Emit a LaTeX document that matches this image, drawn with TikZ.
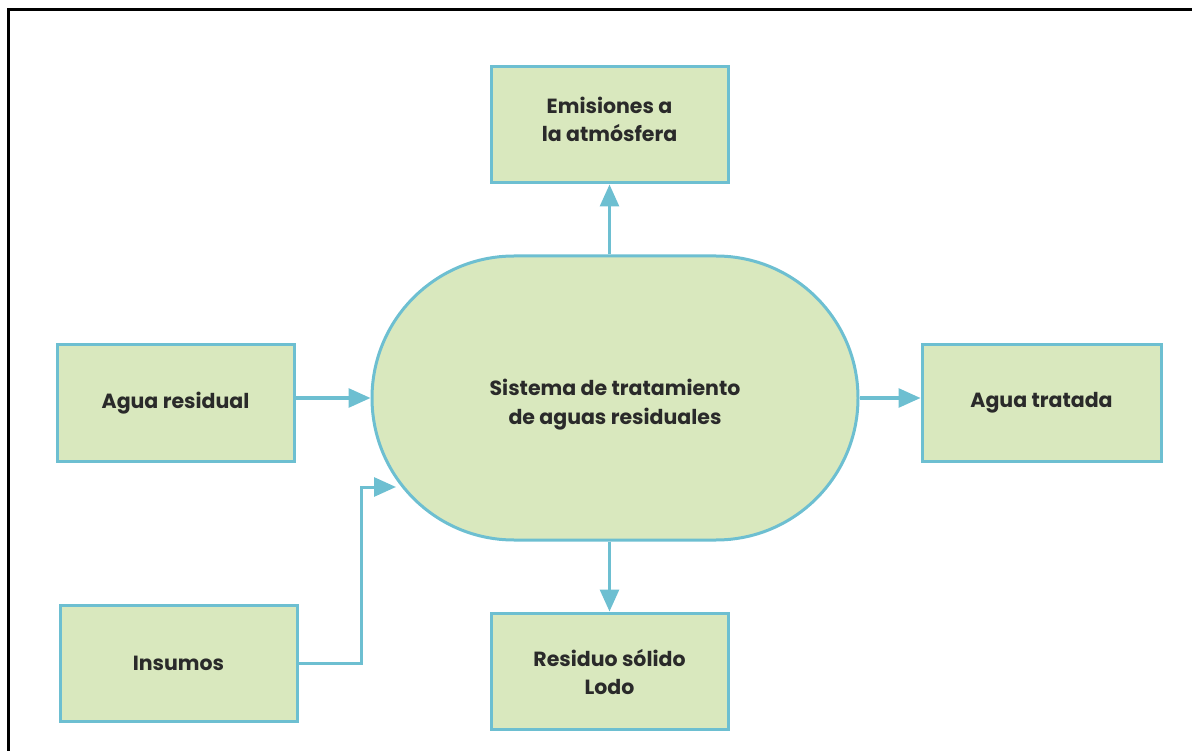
\documentclass[tikz,border=0pt]{standalone}
\usepackage{fontspec}
\setmainfont{Poppins}
\usetikzlibrary{arrows.meta,shapes.misc}
\definecolor{boxfill}{HTML}{D9E8BE}
\definecolor{boxline}{HTML}{6DBFD1}
\definecolor{txt}{HTML}{2A2A2A}
% #1: extra height on first line, #2: extra depth on last line
\newcommand{\twoline}[4]{\begin{tabular}{@{}c@{}}\rule{0pt}{#1}#3\\#4\rule[-#2]{0pt}{0pt}\end{tabular}}
\tikzset{
  box/.style={draw=boxline, fill=boxfill, line width=3pt, minimum width=237pt, minimum height=116pt,
    inner sep=0pt, align=center, font=\fontsize{20.5}{28}\selectfont\bfseries, text=txt},
  flow/.style={draw=boxline, line width=3pt, -{Triangle[length=22pt,width=19pt]}},
  pipe/.style={draw=boxline, line width=3pt}
}
\begin{document}
\begin{tikzpicture}[x=1pt,y=-1pt]
\useasboundingbox (0,0) rectangle (1192,751);
\draw[line width=3pt, line cap=butt] (8.5,751) -- (8.5,10) -- (1192,10);
\node[box] (emi) at (609.5,125) {\twoline{0pt}{14pt}{Emisiones a}{la atmósfera}};
\node[box] (res) at (175.5,403) {Agua residual};
\node[box] (ins) at (178.5,663.5) {Insumos};
\node[box] (lod) at (609.5,671) {\twoline{27.5pt}{0pt}{Residuo sólido}{Lodo}};
\node[box, minimum width=239pt] (tra) at (1041.5,403) {Agua tratada};
\node[draw=boxline, fill=boxfill, line width=3pt, rounded rectangle, minimum width=486pt, minimum height=284pt,
  inner sep=0pt, align=center, font=\fontsize{20.5}{29}\selectfont\bfseries, text=txt] (sys) at (615,398)
  {\twoline{33pt}{0pt}{Sistema de tratamiento}{de aguas residuales}};
\coordinate (turn) at (361,487);
\coordinate (entry) at (396,487);
\draw[flow] (res.east |- sys.center) -- (sys.west);
\draw[flow] (ins.east) -| (turn) -- (entry);
\draw[flow] (sys.north -| emi.south) -- (emi.south);
\draw[flow] (sys.south -| lod.north) -- (lod.north);
\draw[flow] (sys.east) -- (tra.west |- sys.east);
\end{tikzpicture}
\end{document}
